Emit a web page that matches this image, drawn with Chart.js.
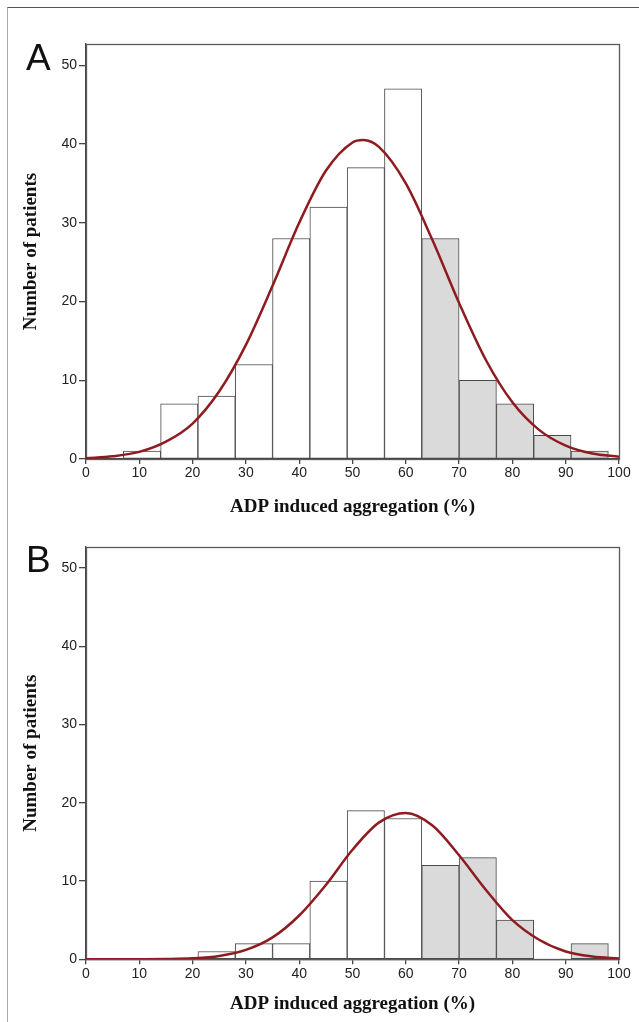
<!DOCTYPE html>
<html>
<head>
<meta charset="utf-8">
<script src="https://cdn.jsdelivr.net/npm/chart.js@4"></script>
<style>
  body { margin: 0; background: #fff; }
  #wrap { position: relative; width: 639px; height: 1022px; overflow: hidden; }
  #frame { position: absolute; left: 7px; top: 7px; width: 640px; height: 1030px;
           border-top: 1px solid #555; border-left: 1px solid #aaa; }
  canvas { position: absolute; left: 0; }
</style>
</head>
<body>
<div id="wrap">
  <div id="frame"></div>
  <canvas id="chartA" width="639" height="520" style="top:0"></canvas>
  <canvas id="chartB" width="639" height="502" style="top:520px"></canvas>
</div>
<script>
// histogram bins (left edges, width 7)
const binStarts = [7, 14, 21, 28, 35, 42, 49, 56, 63, 70, 77, 84, 91]
const binWidth = 7
const countsA = [1, 7, 8, 12, 28, 32, 37, 47, 28, 10, 7, 3, 1]
const countsB = [null, null, 1, 2, 2, 10, 19, 18, 12, 13, 5, null, 2]

// fitted normal curves
const curveXA = [0, 5, 10, 15, 20, 25, 30, 35, 40, 45, 50, 52, 55, 60, 65, 70, 75, 80, 85, 90, 95, 100]
const curveYA = [0.1, 0.35, 0.9, 2.2, 4.5, 8.6, 14.5, 22.0, 30.0, 36.6, 40.2, 40.5, 39.6, 35.0, 27.8, 19.8, 12.6, 7.2, 3.7, 1.7, 0.7, 0.3]
const curveXB = [0, 5, 10, 15, 20, 25, 30, 35, 40, 45, 50, 55, 60, 65, 70, 75, 80, 85, 90, 95, 100]
const curveYB = [0, 0, 0.01, 0.04, 0.13, 0.43, 1.2, 2.8, 5.6, 9.5, 14.0, 17.5, 18.7, 17.1, 13.3, 8.9, 5.0, 2.5, 1.0, 0.36, 0.11]

const xTicks = [0, 10, 20, 30, 40, 50, 60, 70, 80, 90, 100]
const yTicks = [0, 10, 20, 30, 40, 50]
const shadeFrom = 63

const xTitle = 'ADP induced aggregation (%)'
const yTitle = 'Number of patients'

const boxPlugin = {
    id: 'box',
    beforeDatasetsDraw(chart) {
        const {ctx, chartArea: a} = chart
        ctx.save()
        ctx.strokeStyle = '#5a5a5a'
        ctx.lineWidth = 1.3
        ctx.strokeRect(Math.round(a.left) + 0.5, Math.round(a.top) + 0.5, Math.round(a.right - a.left), Math.round(a.bottom - a.top))
        ctx.restore()
    },
    afterDraw(chart, args, opts) {
        const ctx = chart.ctx
        ctx.save()
        ctx.fillStyle = '#111'
        ctx.font = '37px "Liberation Sans"'
        ctx.textBaseline = 'alphabetic'
        ctx.fillText(opts.letter, opts.lx, opts.ly)
        ctx.restore()
    }
}

function makeChart(canvas, counts, cx, cy, p) {
    const bars = binStarts.map((s, i) => ({x: s + binWidth / 2, y: counts[i]}))
    const curve = cx.map((x, i) => ({x: x, y: cy[i]}))
    return new Chart(canvas, {
        type: 'bar',
        data: {
            datasets: [{
                type: 'line',
                data: curve,
                borderColor: '#8e1b1f',
                borderWidth: 2.5,
                pointRadius: 0,
                cubicInterpolationMode: 'monotone',
                order: 0
            }, {
                type: 'bar',
                data: bars,
                backgroundColor: binStarts.map(s => s >= shadeFrom ? '#dadada' : '#ffffff'),
                borderColor: '#4a4a4a',
                borderWidth: 1,
                borderSkipped: false,
                barPercentage: 1,
                categoryPercentage: 1,
                order: 1
            }]
        },
        options: {
            responsive: false,
            animation: false,
            layout: {padding: {top: p.top, right: 20, left: 0, bottom: 0}},
            plugins: {
                legend: {display: false},
                tooltip: {enabled: false},
                box: {letter: p.letter, lx: 26, ly: p.ly}
            },
            scales: {
                x: {
                    type: 'linear',
                    min: 0, max: 100,
                    offset: false,
                    grid: {offset: false, drawOnChartArea: false, tickLength: 5, color: '#444', lineWidth: 1.3},
                    border: {color: '#444', width: 1.3},
                    afterBuildTicks: s => { s.ticks = xTicks.map(v => ({value: v})) },
                    afterFit: s => { s.height = p.xh },
                    ticks: {font: {family: 'Liberation Sans', size: 14}, color: '#222', padding: 1, maxRotation: 0},
                    title: {display: true, text: xTitle, color: '#111', padding: {top: 0, bottom: p.tpad},
                        font: {family: 'Liberation Serif', size: 19, weight: 'bold'}}
                },
                y: {
                    min: 0, max: 52.7,
                    grid: {drawOnChartArea: false, tickLength: 7, color: '#444', lineWidth: 1.3},
                    border: {color: '#444', width: 1.3},
                    afterBuildTicks: s => { s.ticks = yTicks.map(v => ({value: v})) },
                    afterFit: s => { s.width = 86 },
                    ticks: {font: {family: 'Liberation Sans', size: 14}, color: '#222', padding: 2},
                    title: {display: true, text: yTitle, color: '#111', padding: {top: 20, bottom: 0},
                        font: {family: 'Liberation Serif', size: 19, weight: 'bold'}}
                }
            }
        },
        plugins: [boxPlugin]
    })
}

makeChart(document.getElementById('chartA'), countsA, curveXA, curveYA,
    {letter: 'A', top: 44, xh: 61, tpad: 2, ly: 70})
makeChart(document.getElementById('chartB'), countsB, curveXB, curveYB,
    {letter: 'B', top: 27, xh: 62.7, tpad: 7, ly: 51.7})
</script>
</body>
</html>
